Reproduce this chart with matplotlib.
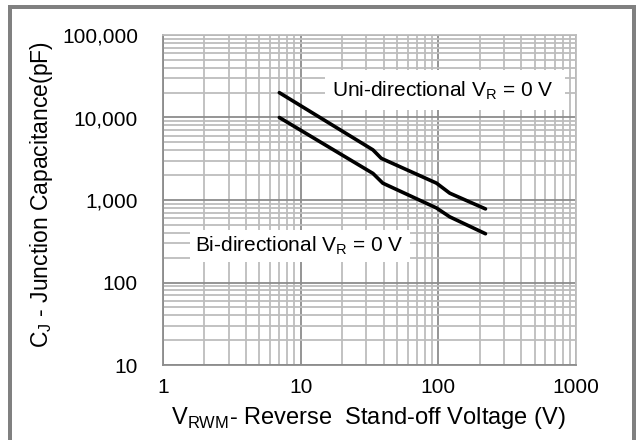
import matplotlib
matplotlib.use("Agg")
import matplotlib.pyplot as plt
from matplotlib.patches import Rectangle
from matplotlib.ticker import FixedLocator, LogLocator, NullFormatter

plt.rcParams['font.family'] = ['Liberation Sans', 'DejaVu Sans']

# Data
uni_v = [7, 33.5, 38.5, 97, 121, 220]
uni_c = [20000, 4050, 3200, 1600, 1210, 780]
bi_v = [7, 33.5, 39.5, 97, 121, 220]
bi_c = [10000, 2100, 1600, 800, 625, 390]

x_ticks = [1, 10, 100, 1000]
x_tick_labels = ["1", "10", "100", "1000"]
y_ticks = [10, 100, 1000, 10000, 100000]
y_tick_labels = ["10", "100", "1,000", "10,000", "100,000"]

W, H = 636, 440
fig = plt.figure(figsize=(W / 100, H / 100), dpi=100)
ax = fig.add_axes([163 / W, 1 - 365 / H, (576 - 163) / W, (365 - 35) / H])

ax.set_xscale('log')
ax.set_yscale('log')
ax.set_xlim(1, 1000)
ax.set_ylim(10, 100000)

ax.xaxis.set_major_locator(FixedLocator(x_ticks))
ax.yaxis.set_major_locator(FixedLocator(y_ticks))
ax.set_xticklabels(x_tick_labels)
ax.set_yticklabels(y_tick_labels)
ax.xaxis.set_minor_locator(LogLocator(base=10, subs=range(2, 10)))
ax.yaxis.set_minor_locator(LogLocator(base=10, subs=range(2, 10)))
ax.xaxis.set_minor_formatter(NullFormatter())
ax.yaxis.set_minor_formatter(NullFormatter())

ax.grid(which='minor', color='#bdbdbd', linewidth=1.3, zorder=0)
ax.grid(which='major', color='#8c8c8c', linewidth=1.3, zorder=0)
ax.set_axisbelow(True)
ax.tick_params(which='both', length=0, labelsize=15, colors='black')
ax.tick_params(axis='x', pad=9)
ax.tick_params(axis='y', pad=18)
for s in ['left', 'bottom']:
    ax.spines[s].set_color('#8c8c8c')
    ax.spines[s].set_linewidth(1.3)
for s in ['top', 'right']:
    ax.spines[s].set_color('#bdbdbd')
    ax.spines[s].set_linewidth(1.3)

ax.plot(uni_v, uni_c, color='black', linewidth=2.6, solid_capstyle='round', zorder=3)
ax.plot(bi_v, bi_c, color='black', linewidth=2.6, solid_capstyle='round', zorder=3)

# white label boxes (figure pixel coords)
def label_box(x0, y0, x1, y1, text, tx, ty):
    ax.add_patch(Rectangle((x0 / W, 1 - y1 / H), (x1 - x0) / W, (y1 - y0) / H,
                           transform=fig.transFigure, facecolor='white',
                           edgecolor='none', zorder=2))
    fig.text(tx / W, 1 - ty / H, text, fontsize=15, ha='left', va='center', zorder=4)

label_box(325, 70, 565, 110, "Uni-directional V$_\\mathregular{R}$ = 0 V", 332, 91)
label_box(190, 230, 410, 262, "Bi-directional V$_\\mathregular{R}$ = 0 V", 195, 246)

fig.text(368 / W, 1 - 418 / H, "V$_\\mathregular{RWM}$- Reverse  Stand-off Voltage (V)",
         fontsize=17, ha='center', va='center')
fig.text(42 / W, 1 - 195 / H, "C$_\\mathregular{J}$ - Junction Capacitance(pF)",
         fontsize=16.5, ha='center', va='center', rotation=90)

# outer gray frame
fc = '#808080'
fig.patches.append(Rectangle((8 / W, 0), 4 / W, 1 - 5 / H, transform=fig.transFigure,
                             facecolor=fc, edgecolor='none'))
fig.patches.append(Rectangle((8 / W, 1 - 9 / H), (636 - 8) / W, 4 / H, transform=fig.transFigure,
                             facecolor=fc, edgecolor='none'))
fig.patches.append(Rectangle((632 / W, 0), 4 / W, 1 - 5 / H, transform=fig.transFigure,
                             facecolor=fc, edgecolor='none'))

fig.savefig("out.png", dpi=100)
